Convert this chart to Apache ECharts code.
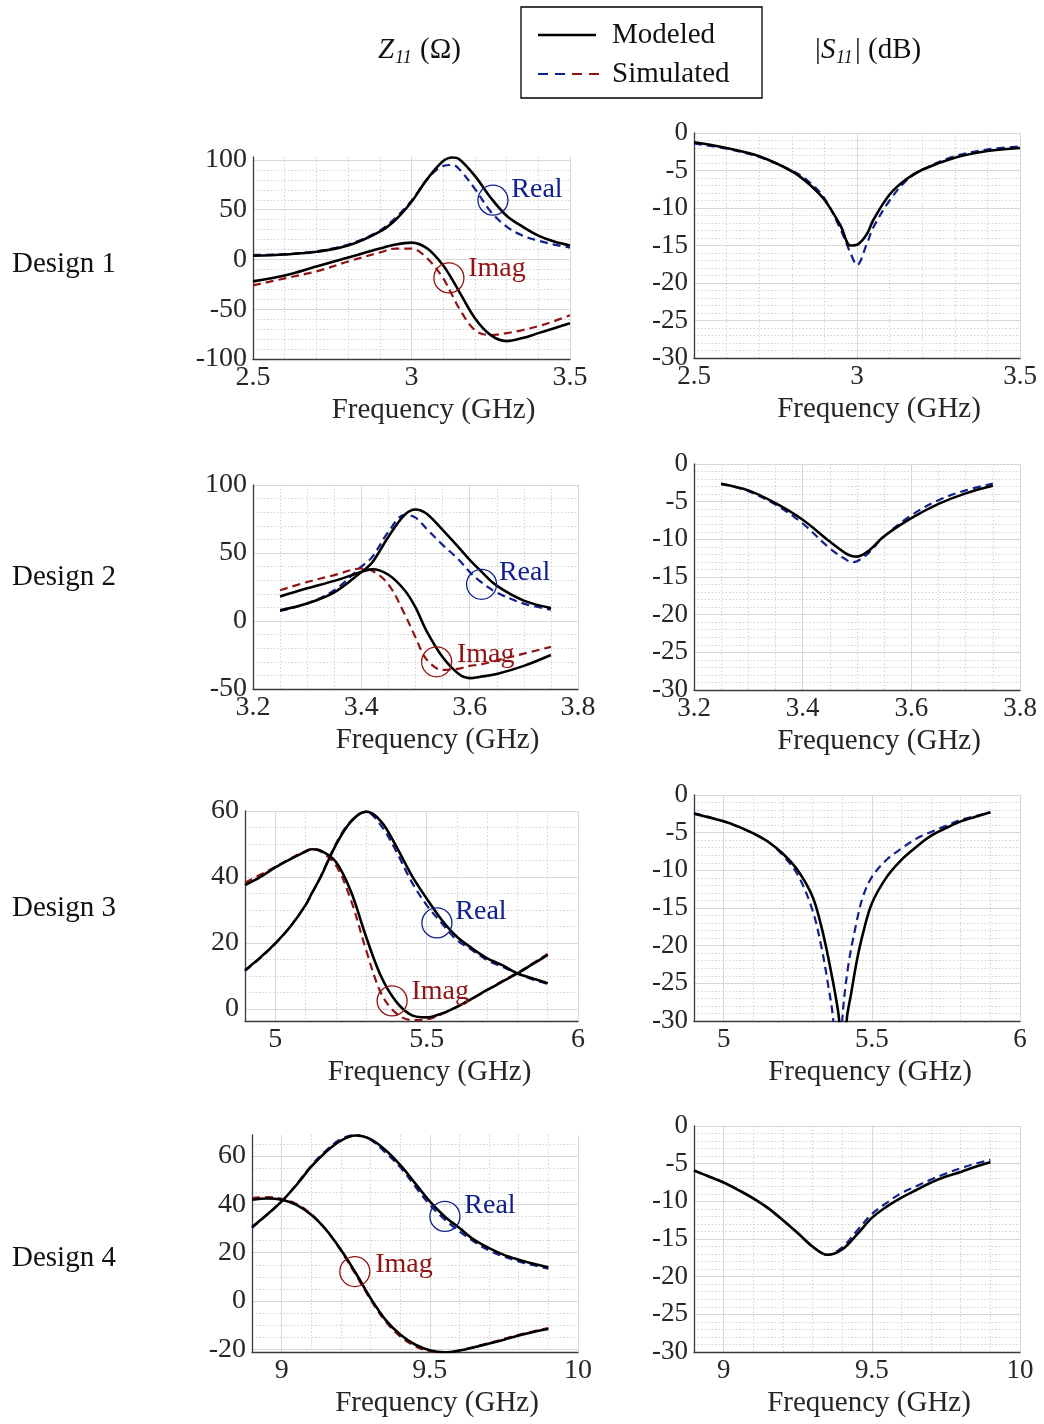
<!DOCTYPE html>
<html><head><meta charset="utf-8">
<script src="https://cdn.jsdelivr.net/npm/echarts@6/dist/echarts.min.js"></script>
<style>html,body{margin:0;padding:0;background:#fff}#c{width:1044px;height:1424px}</style>
</head><body><div id="c"></div>
<script>
// ---------------- DATA ----------------
const designLabels = ['Design 1', 'Design 2', 'Design 3', 'Design 4'];

// Design 1 – Z11
const d1Freq      = [2.5, 2.6, 2.7, 2.8, 2.9, 2.95, 3.0, 3.05, 3.1, 3.13, 3.15, 3.2, 3.25, 3.3, 3.35, 3.4, 3.45, 3.5];
const d1RealMod   = [3.7, 5, 7.7, 14, 28, 40, 58, 81, 99, 102.5, 101, 84, 62, 44, 33, 24, 18, 14];
const d1RealSim   = [4.7, 5.3, 8.3, 15, 29, 42, 59, 81, 94, 95, 91, 71, 48, 33, 24, 19, 15, 12];
const d1ImagMod   = [-22, -16, -7, 2, 11, 15, 17, 11, -6, -21, -32, -59, -76, -82, -79, -74, -69, -64];
const d1ImagSim   = [-26, -19, -12, -2, 7, 11, 11, 1, -19, -37, -49, -71, -76, -74, -71, -67, -62, -56];
// Design 1 – S11
const s1Freq      = [2.5, 2.6, 2.7, 2.8, 2.85, 2.9, 2.95, 2.98, 3.0, 3.03, 3.05, 3.1, 3.15, 3.2, 3.3, 3.4, 3.5];
const s1Mod       = [-1.24, -2.0, -3.1, -5.1, -6.7, -8.9, -12.4, -15.0, -14.9, -13.5, -11.6, -8.2, -6.2, -4.9, -3.3, -2.4, -2.0];
const s1Sim       = [-1.4, -2.1, -3.2, -5.0, -6.4, -8.7, -12.9, -16.0, -17.6, -14.8, -12.6, -9.0, -6.4, -4.9, -3.1, -2.2, -1.8];

// Design 2 – Z11
const d2Freq      = [3.25, 3.3, 3.35, 3.4, 3.42, 3.45, 3.48, 3.5, 3.52, 3.55, 3.58, 3.6, 3.62, 3.65, 3.7, 3.75];
const d2RealMod   = [7.9, 12.8, 21, 36, 43, 62, 78, 82, 79, 67, 54, 45, 37, 26, 15, 9.6];
const d2RealSim   = [7.4, 12.8, 22.6, 40, 47, 65.6, 78, 76, 68, 56, 45, 36, 29, 21, 12.8, 8.4];
const d2ImagMod   = [18, 24, 29.5, 36, 38, 34, 22.6, 10, -7, -26.5, -39, -42, -41, -39, -33, -25];
const d2ImagSim   = [22.6, 28.7, 33.7, 38.6, 37, 27, 5, -12, -28, -36, -35, -33, -32, -29, -24, -19];
// Design 2 – S11
const s2Freq      = [3.25, 3.3, 3.35, 3.4, 3.45, 3.48, 3.49, 3.5, 3.52, 3.55, 3.6, 3.65, 3.7, 3.75];
const s2Mod       = [-2.65, -3.5, -5.2, -7.4, -10.3, -11.9, -12.2, -12.3, -11.6, -9.6, -7.2, -5.3, -3.9, -2.9];
const s2Sim       = [-2.6, -3.6, -5.4, -7.9, -11.2, -12.7, -13.05, -12.9, -11.9, -9.6, -6.8, -4.8, -3.5, -2.6];

// Design 3 – Z11
const d3Freq      = [4.9, 4.95, 5.0, 5.05, 5.1, 5.12, 5.15, 5.2, 5.25, 5.3, 5.35, 5.4, 5.45, 5.5, 5.55, 5.6, 5.65, 5.7, 5.75, 5.8, 5.85, 5.9];
const d3RealMod   = [11.8, 15.6, 19.9, 25, 31.5, 35, 40, 49.7, 56.8, 59.8, 56.8, 49.2, 40.6, 33.5, 27, 21.9, 18.4, 15.4, 13.3, 10.8, 9.3, 7.8];
const d3RealSim   = [11.6, 15.4, 19.8, 25, 31.5, 34.8, 40.2, 50, 57, 59.7, 55.5, 47.7, 38.6, 31.5, 26, 20.9, 17.9, 14.8, 12.8, 10.8, 9, 7.6];
const d3ImagMod   = [37.6, 40, 42.9, 45.4, 47.7, 48.4, 48, 44.6, 35.6, 21.9, 9.8, 2.2, -1.8, -2.5, -1.3, 0.7, 3.2, 5.8, 8.3, 10.8, 13.6, 16.4];
const d3ImagSim   = [38.3, 40.7, 43.1, 45.6, 47.9, 48.4, 47.7, 43.6, 33, 17.9, 4.7, -1.3, -3.3, -3.1, -1.5, 0.7, 3.2, 5.8, 8.5, 11, 13.8, 16.7];
// Design 3 – S11
const s3ModFreq   = [4.9, 5.0, 5.05, 5.1, 5.15, 5.2, 5.25, 5.3, 5.33, 5.35, 5.37, 5.38, 5.39, 5.405, 5.415, 5.43, 5.45, 5.47, 5.5, 5.55, 5.6, 5.65, 5.7, 5.75, 5.8, 5.85, 5.9];
const s3Mod       = [-2.5, -3.5, -4.2, -5.1, -6.2, -7.8, -10, -13.5, -17.5, -21, -25, -27.2, -30, -42, -30, -26.4, -21.9, -18.4, -14.4, -10.9, -8.6, -6.9, -5.4, -4.4, -3.5, -2.9, -2.3];
const s3SimFreq   = [4.9, 5.0, 5.1, 5.15, 5.2, 5.25, 5.3, 5.33, 5.35, 5.37, 5.385, 5.4, 5.42, 5.45, 5.47, 5.5, 5.55, 5.6, 5.65, 5.7, 5.75, 5.8, 5.85, 5.9];
const s3Sim       = [-2.4, -3.5, -5.1, -6.2, -8, -10.6, -15.3, -20.2, -24.6, -30, -42, -30, -22.8, -16.6, -13.5, -10.9, -8.6, -7.1, -5.8, -4.9, -4.1, -3.3, -2.8, -2.3];

// Design 4 – Z11
const d4Freq      = [8.9, 8.95, 9.0, 9.05, 9.1, 9.15, 9.2, 9.25, 9.3, 9.35, 9.4, 9.45, 9.5, 9.55, 9.6, 9.65, 9.7, 9.75, 9.8, 9.85, 9.9];
const d4RealMod   = [30.6, 35.7, 41.2, 48, 55.6, 61.8, 66.4, 68.5, 67, 62.5, 56.3, 48.8, 41.2, 35, 30.2, 25.3, 21.9, 19.1, 17.1, 15.4, 14];
const d4RealSim   = [30.2, 35.6, 41.2, 48.3, 56, 62.3, 67, 68.7, 66.7, 61.5, 55.4, 47.5, 39.8, 33.8, 28.8, 24.5, 20.9, 18.4, 16.4, 14.8, 13.4];
const d4ImagMod   = [41.9, 42.4, 41.9, 39.8, 35.7, 29.5, 21.2, 11.6, 1.2, -7.7, -13.9, -18, -20.4, -21.2, -20.5, -19.1, -17.6, -16, -14.3, -12.8, -11.6];
const d4ImagSim   = [42.6, 43, 42.3, 40.2, 36, 29.5, 20.8, 10.9, 0.6, -8.4, -14.6, -18.7, -20.8, -21.2, -20.4, -19, -17.4, -15.7, -14, -12.5, -11.2];
// Design 4 – S11
const s4Freq      = d4Freq;
const s4Mod       = [-5.9, -6.7, -7.5, -8.5, -9.6, -10.9, -12.5, -14.2, -16.0, -17.1, -16.4, -14.4, -12.2, -10.7, -9.5, -8.5, -7.5, -6.7, -6.1, -5.4, -4.8];
const s4Sim       = [-5.9, -6.7, -7.5, -8.5, -9.6, -10.9, -12.5, -14.2, -16.0, -17.1, -16.1, -13.9, -11.7, -10.2, -8.9, -8.0, -7.1, -6.3, -5.6, -5.0, -4.5];

// Tick labels
const xTicks1 = [2.5, 3, 3.5];
const xTicks2 = [3.2, 3.4, 3.6, 3.8];
const xTicks3 = [5, 5.5, 6];
const xTicks4 = [9, 9.5, 10];
const zTicks1 = [-100, -50, 0, 50, 100];
const zTicks2 = [-50, 0, 50, 100];
const zTicks3 = [0, 20, 40, 60];
const zTicks4 = [-20, 0, 20, 40, 60];
const sTicks  = [-30, -25, -20, -15, -10, -5, 0];

// Annotation anchor points (data coords): [x, y]
const d1RealNote = [3.257, 59.7], d1ImagNote = [3.118, -18.5];
const d2RealNote = [3.622, 27],   d2ImagNote = [3.539, -30];
const d3RealNote = [5.534, 26.1], d3ImagNote = [5.386, 2.5];
const d4RealNote = [9.551, 35],   d4ImagNote = [9.247, 12.2];

// ---------------- STYLE / LAYOUT ----------------
const BLUE = '#10208c', RED = '#901414', BLACK = '#000';
const FONT = '"Liberation Serif","Times New Roman",serif';
const TXT = '#262626';

const panels = [
  {grid:{left:253,top:157,width:317,height:202}, x:[2.5,3.5], xt:xTicks1, xm:0.1, y:[-100,103], yt:zTicks1, ym:10, shift:22, fs:28},
  {grid:{left:694,top:133,width:326,height:225}, x:[2.5,3.5], xt:xTicks1, xm:0.1, y:[-30,0], yt:sTicks, ym:1, shift:22, fs:27},
  {grid:{left:253,top:485,width:325,height:204}, x:[3.2,3.8], xt:xTicks2, xm:0.05, y:[-50,100], yt:zTicks2, ym:10, shift:22, fs:28},
  {grid:{left:694,top:464,width:326,height:226}, x:[3.2,3.8], xt:xTicks2, xm:0.05, y:[-30,0], yt:sTicks, ym:1, shift:22, fs:27},
  {grid:{left:245,top:811,width:333,height:210}, x:[4.9,6], xt:xTicks3, xm:0.1, y:[-3.6,60], yt:zTicks3, ym:5, shift:18, fs:28},
  {grid:{left:694,top:795,width:326,height:226}, x:[4.9,6], xt:xTicks3, xm:0.1, y:[-30,0], yt:sTicks, ym:1, shift:13, fs:27},
  {grid:{left:252,top:1135,width:326,height:217}, x:[8.9,10], xt:xTicks4, xm:0.1, y:[-21.1,68.7], yt:zTicks4, ym:5, shift:22, fs:28},
  {grid:{left:694,top:1126,width:326,height:226}, x:[8.9,10], xt:xTicks4, xm:0.1, y:[-30,0], yt:sTicks, ym:1, shift:12, fs:27}
];

function minorVals(lo, hi, step, majors) {
  const out = [];
  const start = Math.ceil(lo / step - 1e-9);
  for (let k = start; k * step <= hi + 1e-9; k++) {
    const v = Math.round(k * step * 1e6) / 1e6;
    if (!majors.some(m => Math.abs(m - v) < 1e-6)) out.push(v);
  }
  return out;
}

const grids = [], xAxes = [], yAxes = [];
panels.forEach((p, i) => {
  grids.push(Object.assign({containLabel:false}, p.grid));
  const lab = {color: TXT, fontFamily: FONT, fontSize: p.fs};
  xAxes.push({
    type:'value', gridIndex:i, min:p.x[0], max:p.x[1], position:'bottom',
    axisLine:{show:true, onZero:false, lineStyle:{color:'#3a3a3a', width:1.3}},
    axisTick:{show:false, customValues:p.xt},
    axisLabel:Object.assign({customValues:p.xt, margin:5}, lab),
    splitLine:{show:true, lineStyle:{color:'#d8d8d8', width:1}},
    name:'Frequency (GHz)', nameLocation:'middle', nameGap:37,
    nameTextStyle:{color:TXT, fontFamily:FONT, fontSize:29, padding:[0,0,0,2*p.shift]}
  });
  xAxes.push({
    type:'value', gridIndex:i, min:p.x[0], max:p.x[1], position:'top',
    axisLine:{show:false}, axisLabel:{show:false},
    axisTick:{show:false, customValues:minorVals(p.x[0], p.x[1], p.xm, p.xt)},
    splitLine:{show:true, lineStyle:{color:'#d2d2d2', width:1, type:[1.5,2]}}
  });
  yAxes.push({
    type:'value', gridIndex:i, min:p.y[0], max:p.y[1], position:'left',
    axisLine:{show:true, onZero:false, lineStyle:{color:'#3a3a3a', width:1.3}},
    axisTick:{show:false, customValues:p.yt},
    axisLabel:Object.assign({customValues:p.yt, margin:6}, lab),
    splitLine:{show:true, lineStyle:{color:'#d8d8d8', width:1}}
  });
  yAxes.push({
    type:'value', gridIndex:i, min:p.y[0], max:p.y[1], position:'right',
    axisLine:{show:false}, axisLabel:{show:false},
    axisTick:{show:false, customValues:minorVals(p.y[0], p.y[1], p.ym, p.yt)},
    splitLine:{show:true, lineStyle:{color:'#d2d2d2', width:1, type:[1.5,2]}}
  });
});

function note(pt, text, color, dx, dy) {
  return {
    symbol:'circle', symbolSize:30, silent:true, animation:false,
    itemStyle:{color:'rgba(0,0,0,0)', borderColor:color, borderWidth:1.3},
    label:{show:true, formatter:text, position:[15+dx, 15+dy], align:'left', verticalAlign:'middle',
           color:color, fontFamily:FONT, fontSize:28},
    data:[{coord:pt}]
  };
}

function line(gi, xs, ys, color, dashed, mp) {
  const s = {
    type:'line', xAxisIndex:2*gi, yAxisIndex:2*gi,
    data: xs.map((x, k) => [x, ys[k]]),
    smooth:0.35, symbol:'none', showSymbol:false, silent:true, clip:true,
    lineStyle:{color:color, width: dashed ? 2.2 : 2.6, type: dashed ? [8,5] : 'solid'},
    z: dashed ? 2 : 3
  };
  if (mp) s.markPoint = mp;
  return s;
}

const series = [
  line(0, d1Freq, d1RealSim, BLUE, true, note(d1RealNote, 'Real', BLUE, 19, -10)),
  line(0, d1Freq, d1ImagSim, RED, true, note(d1ImagNote, 'Imag', RED, 20, -9)),
  line(0, d1Freq, d1RealMod, BLACK, false),
  line(0, d1Freq, d1ImagMod, BLACK, false),
  line(1, s1Freq, s1Sim, BLUE, true),
  line(1, s1Freq, s1Mod, BLACK, false),

  line(2, d2Freq, d2RealSim, BLUE, true, note(d2RealNote, 'Real', BLUE, 18, -11)),
  line(2, d2Freq, d2ImagSim, RED, true, note(d2ImagNote, 'Imag', RED, 21, -7)),
  line(2, d2Freq, d2RealMod, BLACK, false),
  line(2, d2Freq, d2ImagMod, BLACK, false),
  line(3, s2Freq, s2Sim, BLUE, true),
  line(3, s2Freq, s2Mod, BLACK, false),

  line(4, d3Freq, d3RealSim, BLUE, true, note(d3RealNote, 'Real', BLUE, 19, -11)),
  line(4, d3Freq, d3ImagSim, RED, true, note(d3ImagNote, 'Imag', RED, 20, -9)),
  line(4, d3Freq, d3RealMod, BLACK, false),
  line(4, d3Freq, d3ImagMod, BLACK, false),
  line(5, s3SimFreq, s3Sim, BLUE, true),
  line(5, s3ModFreq, s3Mod, BLACK, false),

  line(6, d4Freq, d4RealSim, BLUE, true, note(d4RealNote, 'Real', BLUE, 20, -10)),
  line(6, d4Freq, d4ImagSim, RED, true, note(d4ImagNote, 'Imag', RED, 21, -6)),
  line(6, d4Freq, d4RealMod, BLACK, false),
  line(6, d4Freq, d4ImagMod, BLACK, false),
  line(7, s4Freq, s4Sim, BLUE, true),
  line(7, s4Freq, s4Mod, BLACK, false)
];

function txt(x, y, text, size, extra) {
  return {type:'text', x:x, y:y, silent:true,
    style:Object.assign({text:text, fontSize:size, fontFamily:FONT, fill:'#111', verticalAlign:'middle', align:'left'}, extra || {})};
}

const designY = [264, 577, 908, 1258];
const graphic = [];
designLabels.forEach((d, i) => graphic.push(txt(12, designY[i], d, 29)));
// column headers
graphic.push(txt(378, 50, 'Z', 29, {fontStyle:'italic'}));
graphic.push(txt(395, 58, '11', 18, {fontStyle:'italic'}));
graphic.push(txt(420, 50, '(Ω)', 29));
graphic.push(txt(815, 50, '|', 29));
graphic.push(txt(821, 50, 'S', 29, {fontStyle:'italic'}));
graphic.push(txt(836, 58, '11', 18, {fontStyle:'italic'}));
graphic.push(txt(855, 50, '|', 29));
graphic.push(txt(868, 50, '(dB)', 29));
// legend box
graphic.push({type:'rect', shape:{x:521, y:7, width:241, height:91}, style:{fill:'#fff', stroke:'#000', lineWidth:1.3}});
graphic.push({type:'line', shape:{x1:538, y1:35, x2:596, y2:35}, style:{stroke:BLACK, lineWidth:2.6}});
graphic.push({type:'line', shape:{x1:538, y1:74, x2:565, y2:74}, style:{stroke:BLUE, lineWidth:2.2, lineDash:[10,7]}});
graphic.push({type:'line', shape:{x1:572, y1:74, x2:599, y2:74}, style:{stroke:RED, lineWidth:2.2, lineDash:[10,7]}});
graphic.push(txt(612, 35, 'Modeled', 29));
graphic.push(txt(612, 74, 'Simulated', 29));

const chart = echarts.init(document.getElementById('c'), null, {renderer:'canvas'});
chart.setOption({
  animation:false,
  backgroundColor:'#fff',
  grid:grids, xAxis:xAxes, yAxis:yAxes, series:series, graphic:graphic
});
</script></body></html>
